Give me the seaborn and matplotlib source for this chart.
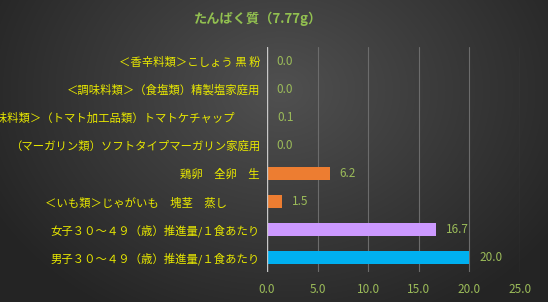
import numpy as np
import pandas as pd
import matplotlib
matplotlib.use("Agg")
import matplotlib.pyplot as plt
import matplotlib.transforms as mtrans
import seaborn as sns

categories = [
    "＜香辛料類＞こしょう 黒 粉",
    "＜調味料類＞（食塩類）精製塩家庭用",
    "＜調味料類＞（トマト加工品類）トマトケチャップ",
    "（マーガリン類）ソフトタイプマーガリン家庭用",
    "鶏卵　全卵　生",
    "＜いも類＞じゃがいも　塊茎　蒸し",
    "女子３０～４９（歳）推進量/１食あたり",
    "男子３０～４９（歳）推進量/１食あたり",
]
values = [0.0, 0.0, 0.1, 0.0, 6.2, 1.5, 16.7, 20.0]
groups = ["food", "food", "food", "food", "food", "food", "female", "male"]
title = "たんぱく質（7.77g）"
xticks = [0, 5, 10, 15, 20, 25]

palette = {"food": "#ED7D31", "female": "#CC99FF", "male": "#00B0F0"}

sns.set_theme(style="dark")
plt.rcParams['font.family'] = ['Noto Sans CJK JP', 'DejaVu Sans']

W, H = 548, 302
fig = plt.figure(figsize=(W / 100, H / 100), dpi=100)

# background radial gradient
bg = fig.add_axes([0, 0, 1, 1], zorder=-10)
yy, xx = np.mgrid[0:H, 0:W]
d = np.sqrt(((xx - 280) / 330.0) ** 2 + ((yy - 90) / 260.0) ** 2)
d = np.clip(d, 0, 1)
c0 = np.array([0x50, 0x50, 0x50]) / 255.0
c1 = np.array([0x24, 0x24, 0x24]) / 255.0
img = c0[None, None, :] * (1 - d[..., None]) + c1[None, None, :] * d[..., None]
bg.imshow(img, aspect='auto', extent=[0, 1, 0, 1])
bg.axis('off')

ax = fig.add_axes([267 / W, 30 / H, 253 / W, 225 / H])
ax.set_facecolor((0, 0, 0, 0))
df = pd.DataFrame({"cat": categories, "val": values, "grp": groups})
sns.barplot(data=df, y="cat", x="val", hue="grp", palette=palette,
            dodge=False, legend=False, width=0.46, ax=ax, saturation=1,
            order=categories, edgecolor="none", linewidth=0)

ax.set_xlim(0, 25)
ax.set_xticks(xticks)
ax.set_xticklabels([f"{t:.1f}" for t in xticks], color="#9BBB59", fontsize=8.5)
ax.set_xlabel("")
ax.set_ylabel("")
ax.tick_params(axis='x', length=0, pad=8)
ax.tick_params(axis='y', length=0, pad=5, labelsize=8.2, labelcolor="#E8E800")
ax.grid(axis='x', color="#6c6c6c", linewidth=0.8)
ax.grid(axis='y', visible=False)
for s in ax.spines.values():
    s.set_visible(False)
ax.axvline(0, color="#c8c8c8", linewidth=1.0, zorder=5)

# shift some labels as in reference
shifts = {2: -25, 5: -33}
for i, lab in enumerate(ax.get_yticklabels()):
    if i in shifts:
        lab.set_transform(lab.get_transform() +
                          mtrans.ScaledTranslation(shifts[i] / 100, 0, fig.dpi_scale_trans))

for cont in ax.containers:
    ax.bar_label(cont, fmt="%.1f", padding=7, color="#9BBB59", fontsize=8.5)

fig.text(258 / W, 1 - 19 / H, title, ha='center', va='center',
         color="#92C050", fontsize=9.5, fontweight='bold')

fig.savefig("out.png", dpi=100)
